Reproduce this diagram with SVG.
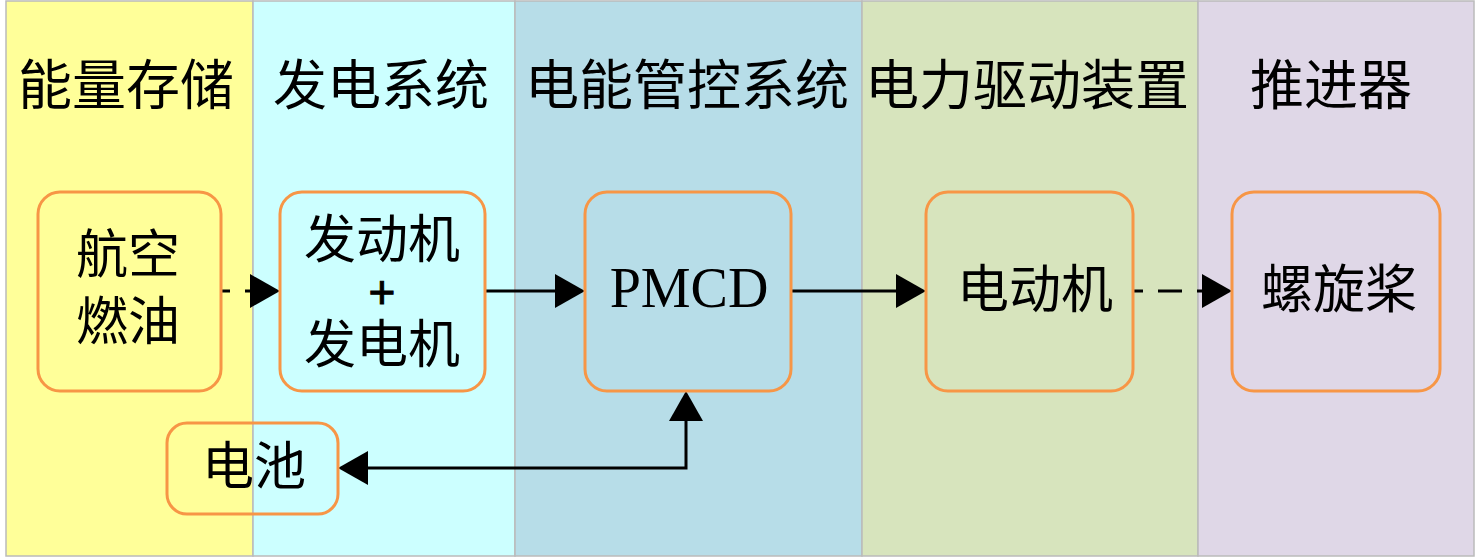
<svg xmlns="http://www.w3.org/2000/svg" width="1476" height="558" viewBox="0 0 1476 558">
<style>
.lane{stroke:#bbbbbb;stroke-width:1.5}
.title{font-family:"Liberation Serif","Noto Sans CJK SC",serif;font-size:54px;fill:#000;text-anchor:middle}
.node rect{fill:none;stroke:#f79646;stroke-width:3}
.lbl{font-family:"Liberation Serif","Noto Sans CJK SC",serif;font-size:52px;fill:#000;text-anchor:middle}
.plus{font-family:"Liberation Sans",Arial,sans-serif;font-size:46px;fill:#000;stroke:#000;stroke-width:1;text-anchor:middle}
.pm{font-family:"Liberation Serif","Times New Roman",serif;font-size:56px;fill:#000;text-anchor:middle}
.edge{fill:none;stroke:#000;stroke-width:3}
.dash{stroke-dasharray:24 15}
</style>
<defs>
<marker id="arr" markerUnits="userSpaceOnUse" markerWidth="30" markerHeight="34" refX="26" refY="17" orient="auto-start-reverse" viewBox="0 0 30 34">
<path d="M0,0 L30,17 L0,34 Z" fill="#000"/>
</marker>
</defs>
<g id="lanes">
<rect class="lane" x="6" y="1" width="247" height="555" fill="#ffff99"/>
<rect class="lane" x="253" y="1" width="262" height="555" fill="#ccffff"/>
<rect class="lane" x="515" y="1" width="347" height="555" fill="#b7dde8"/>
<rect class="lane" x="862" y="1" width="336" height="555" fill="#d7e4bd"/>
<rect class="lane" x="1198" y="1" width="276" height="555" fill="#dfd7e7"/>
<text class="title" x="126" y="105">能量存储</text>
<text class="title" x="381" y="105">发电系统</text>
<text class="title" x="687" y="105">电能管控系统</text>
<text class="title" x="1027" y="105">电力驱动装置</text>
<text class="title" x="1331" y="105">推进器</text>
</g>
<g id="connectors">
<path class="edge dash" style="stroke-dashoffset:15" d="M221,291 H276" marker-end="url(#arr)"/>
<path class="edge" d="M485,291 H581" marker-end="url(#arr)"/>
<path class="edge" d="M791,291 H922" marker-end="url(#arr)"/>
<path class="edge dash" style="stroke-dashoffset:14" d="M1133,291 H1228" marker-end="url(#arr)"/>
<path class="edge" d="M342,468 H686 V395" marker-start="url(#arr)" marker-end="url(#arr)"/>
</g>
<g id="fuel" class="node">
<rect x="38" y="192" width="183" height="199" rx="22"/>
<text class="lbl" x="128" y="273">航空</text>
<text class="lbl" x="128" y="340">燃油</text>
</g>
<g id="engine" class="node">
<rect x="280" y="192" width="205" height="199" rx="22"/>
<text class="lbl" x="382" y="258">发动机</text>
<text class="plus" x="382" y="308">+</text>
<text class="lbl" x="382" y="363">发电机</text>
</g>
<g id="pmcd" class="node">
<rect x="585" y="192" width="206" height="199" rx="22"/>
<text class="pm" x="689" y="307">PMCD</text>
</g>
<g id="motor" class="node">
<rect x="926" y="192" width="207" height="199" rx="22"/>
<text class="lbl" x="1035" y="308">电动机</text>
</g>
<g id="propeller" class="node">
<rect x="1232" y="192" width="208" height="199" rx="22"/>
<text class="lbl" x="1339" y="308">螺旋桨</text>
</g>
<g id="battery" class="node">
<rect x="167" y="423" width="171" height="91" rx="20"/>
<text class="lbl" x="254" y="485">电池</text>
</g>
</svg>
